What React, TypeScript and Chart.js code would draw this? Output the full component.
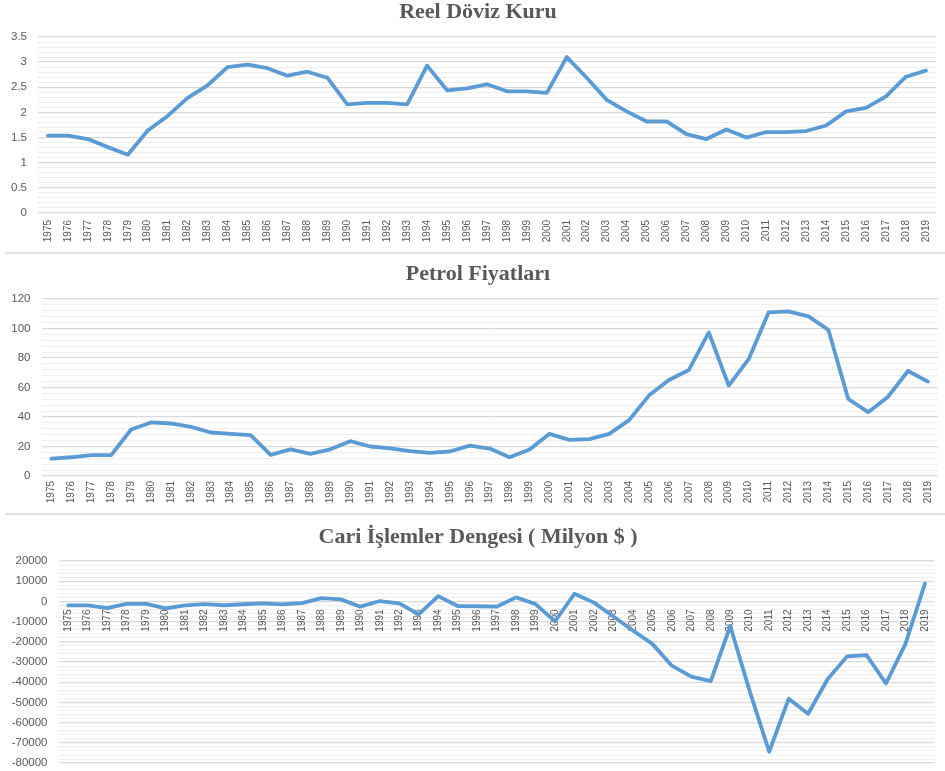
import React, { useEffect, useRef } from "react";
import { Chart, registerables } from "chart.js";

Chart.register(...registerables);

const years = [
  "1975", "1976", "1977", "1978", "1979", "1980", "1981", "1982", "1983", "1984",
  "1985", "1986", "1987", "1988", "1989", "1990", "1991", "1992", "1993", "1994",
  "1995", "1996", "1997", "1998", "1999", "2000", "2001", "2002", "2003", "2004",
  "2005", "2006", "2007", "2008", "2009", "2010", "2011", "2012", "2013", "2014",
  "2015", "2016", "2017", "2018", "2019",
];

const reelDovizKuru = [
  1.54, 1.54, 1.47, 1.31, 1.16, 1.64, 1.93, 2.29, 2.54, 2.9,
  2.95, 2.88, 2.73, 2.81, 2.69, 2.16, 2.19, 2.19, 2.16, 2.93,
  2.44, 2.48, 2.56, 2.42, 2.42, 2.39, 3.1, 2.69, 2.25, 2.02,
  1.82, 1.82, 1.57, 1.47, 1.66, 1.5, 1.61, 1.61, 1.63, 1.74,
  2.02, 2.09, 2.32, 2.71, 2.83,
];

const petrolFiyatlari = [
  11.8, 12.7, 14.1, 14.1, 31.5, 36.3, 35.6, 33.3, 29.5, 28.6,
  27.7, 14.3, 18.1, 15.0, 18.1, 23.6, 20.0, 18.8, 16.8, 15.7,
  16.6, 20.6, 18.6, 12.7, 17.9, 28.6, 24.5, 25.0, 28.6, 37.9,
  54.7, 65.1, 71.9, 97.3, 61.3, 79.2, 110.9, 111.6, 108.2, 99.1,
  52.2, 43.3, 53.8, 71.2, 64.0,
];

const cariIslemler = [
  -2000, -2000, -3300, -1200, -1200, -3400, -2000, -1300, -1900, -1400,
  -1000, -1500, -800, 1600, 1000, -2600, 200, -1000, -6400, 2600,
  -2300, -2400, -2600, 2000, -1300, -9900, 3800, -600, -7500, -14400,
  -21000, -31800, -37200, -39400, -12200, -44400, -74400, -48200, -55600, -38500,
  -27200, -26600, -40600, -21000, 8800,
];

const titles = ["Reel Döviz Kuru", "Petrol Fiyatları", "Cari İşlemler Dengesi ( Milyon $ )"];

type Cfg = {
  title: string;
  data: number[];
  min: number;
  max: number;
  minor: number;
  major: number;
  height: number;
  yWidth: number;
  xHeight: number;
  xPad: number;
  titleY: number;
  padTop: number;
  padBottom: number;
  xAtZero: boolean;
};

const BLUE = "#5B9BD5";
const TXT = "#595959";
const TITLE_X = 478;

function isMajor(v: number, major: number) {
  const r = v / major;
  return Math.abs(r - Math.round(r)) < 1e-6;
}

function fmt(v: number) {
  return String(Math.round(v * 1000) / 1000);
}

function LineChart({ cfg }: { cfg: Cfg }) {
  const ref = useRef<HTMLCanvasElement | null>(null);
  useEffect(() => {
    if (!ref.current) return;
    const titlePlugin = {
      id: "centeredTitle",
      afterDraw(chart: any) {
        const ctx = chart.ctx;
        ctx.save();
        ctx.font = "bold 22px 'Liberation Serif', 'Times New Roman', serif";
        ctx.fillStyle = TXT;
        ctx.textAlign = "center";
        ctx.textBaseline = "middle";
        ctx.fillText(cfg.title, TITLE_X, cfg.titleY);
        ctx.restore();
      },
    };
    const chart = new Chart(ref.current, {
      type: "line",
      data: {
        labels: years,
        datasets: [
          {
            data: cfg.data,
            borderColor: BLUE,
            backgroundColor: BLUE,
            borderWidth: 3.8,
            pointRadius: 0,
            tension: 0,
            borderJoinStyle: "round",
            borderCapStyle: "round",
          },
        ],
      },
      plugins: [titlePlugin],
      options: {
        animation: false,
        responsive: false,
        events: [],
        layout: { padding: { left: 0, right: 6, top: cfg.padTop, bottom: cfg.padBottom } },
        plugins: {
          legend: { display: false },
          tooltip: { enabled: false },
          title: { display: false },
        },
        scales: {
          x: {
            type: "category",
            offset: true,
            position: cfg.xAtZero ? ({ y: 0 } as any) : "bottom",
            grid: { display: false, drawTicks: false },
            border: { display: false },
            ticks: {
              autoSkip: false,
              minRotation: 90,
              maxRotation: 90,
              padding: cfg.xPad,
              color: TXT,
              font: { family: "'Liberation Sans', Arial, sans-serif", size: 10 },
            },
            afterFit: (s: any) => {
              s.height = cfg.xHeight;
            },
          },
          y: {
            min: cfg.min,
            max: cfg.max,
            grid: {
              drawTicks: false,
              color: (ctx: any) => (isMajor(ctx.tick.value, cfg.major) ? "#d9d9d9" : "#efefef"),
              lineWidth: (ctx: any) => (isMajor(ctx.tick.value, cfg.major) ? 1.3 : 1),
            },
            border: { display: false },
            ticks: {
              stepSize: cfg.minor,
              autoSkip: false,
              padding: 11,
              color: TXT,
              font: { family: "'Liberation Sans', Arial, sans-serif", size: 11.5 },
              callback: (v: any) => (isMajor(Number(v), cfg.major) ? fmt(Number(v)) : ""),
            },
            afterFit: (s: any) => {
              s.width = cfg.yWidth;
            },
          },
        },
      },
    });
    return () => chart.destroy();
  }, [cfg]);
  return <canvas ref={ref} width={945} height={cfg.height} style={{ display: "block" }} />;
}

const cfgs: Cfg[] = [
  {
    title: titles[0], data: reelDovizKuru, min: 0, max: 3.5, minor: 0.1, major: 0.5,
    height: 252, yWidth: 38, xHeight: 39, xPad: 7, titleY: 12, padTop: 37, padBottom: 0, xAtZero: false,
  },
  {
    title: titles[1], data: petrolFiyatlari, min: 0, max: 120, minor: 4, major: 20,
    height: 262, yWidth: 41.5, xHeight: 38, xPad: 5, titleY: 22, padTop: 47, padBottom: 0, xAtZero: false,
  },
  {
    title: titles[2], data: cariIslemler, min: -80000, max: 20000, minor: 2000, major: 10000,
    height: 267, yWidth: 58.5, xHeight: 30, xPad: 8, titleY: 23, padTop: 47, padBottom: 0, xAtZero: true,
  },
];

export default function App() {
  return (
    <div style={{ position: "absolute", left: 0, top: 0, width: 945, height: 771, background: "#fff", overflow: "hidden" }}>
      <LineChart cfg={cfgs[0]} />
      <LineChart cfg={cfgs[1]} />
      <LineChart cfg={cfgs[2]} />
      <div style={{ position: "absolute", left: 5, top: 252, width: 940, height: 0, borderTop: "2px solid #e3e3e3" }} />
      <div style={{ position: "absolute", left: 5, top: 513, width: 940, height: 0, borderTop: "2px solid #e3e3e3" }} />
    </div>
  );
}
